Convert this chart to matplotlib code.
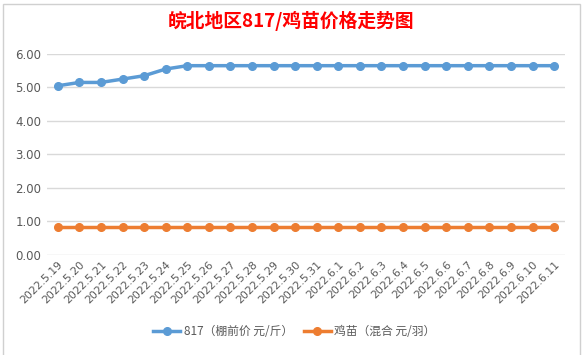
import numpy as np
import matplotlib
matplotlib.use("Agg")
from matplotlib import pyplot as plt
from matplotlib.patches import Rectangle

plt.rcParams['font.family'] = ['Noto Sans CJK SC', 'DejaVu Sans']

# data
dates = ["2022.5.19", "2022.5.20", "2022.5.21", "2022.5.22", "2022.5.23", "2022.5.24",
         "2022.5.25", "2022.5.26", "2022.5.27", "2022.5.28", "2022.5.29", "2022.5.30",
         "2022.5.31", "2022.6.1", "2022.6.2", "2022.6.3", "2022.6.4", "2022.6.5",
         "2022.6.6", "2022.6.7", "2022.6.8", "2022.6.9", "2022.6.10", "2022.6.11"]
price_817 = [5.05, 5.15, 5.15, 5.25, 5.35, 5.55, 5.65, 5.65, 5.65, 5.65, 5.65, 5.65,
             5.65, 5.65, 5.65, 5.65, 5.65, 5.65, 5.65, 5.65, 5.65, 5.65, 5.65, 5.65]
price_chick = [0.85] * 24
yticks = [0, 1, 2, 3, 4, 5, 6]

blue = "#5B9BD5"
orange = "#ED7D31"
grid = "#D9D9D9"
txt = "#595959"

fig = plt.figure(figsize=(5.83, 3.55), dpi=100)
ax = fig.add_axes([0.0806, 0.2817, 0.8884, 0.5663])

# chart border like the spreadsheet chart box
fig.patches.append(Rectangle((0.006, -0.01), 0.988, 1.0, transform=fig.transFigure,
                             fill=False, edgecolor="#D0D0D0", linewidth=1))

x = np.arange(len(dates))
l1, = ax.plot(x, price_817, color=blue, lw=2.5, marker="o", ms=5.5, zorder=3,
              label="817（棚前价 元/斤）")
l2, = ax.plot(x, price_chick, color=orange, lw=2.5, marker="o", ms=5.5, zorder=3,
              label="鸡苗（混合 元/羽）")

ax.set_xlim(-0.5, len(dates) - 0.5)
ax.set_ylim(0, 6)
ax.set_yticks(yticks)
ax.set_yticklabels(["{:.2f}".format(v) for v in yticks], color=txt, fontsize=8.5,
                   family=['DejaVu Sans'])
ax.set_xticks(x)
ax.set_xticklabels(dates, rotation=45, ha="right", rotation_mode="anchor",
                   color=txt, fontsize=7.8, family=['DejaVu Sans'])
ax.tick_params(length=0, pad=4)
ax.tick_params(axis="x", pad=3)
ax.grid(axis="y", color=grid, lw=1)
ax.set_axisbelow(True)
for s in ax.spines.values():
    s.set_visible(False)

fig.text(0.5, 0.94, "皖北地区817/鸡苗价格走势图", ha="center", va="center",
         color="red", fontsize=13.5, fontweight="bold")

fig.legend(handles=[l1, l2], loc="center", bbox_to_anchor=(0.505, 0.065), ncol=2,
           frameon=False, fontsize=8.5, labelcolor=txt, handlelength=2.3,
           columnspacing=0.9, handletextpad=0.3)

fig.savefig("out.png", dpi=100)
